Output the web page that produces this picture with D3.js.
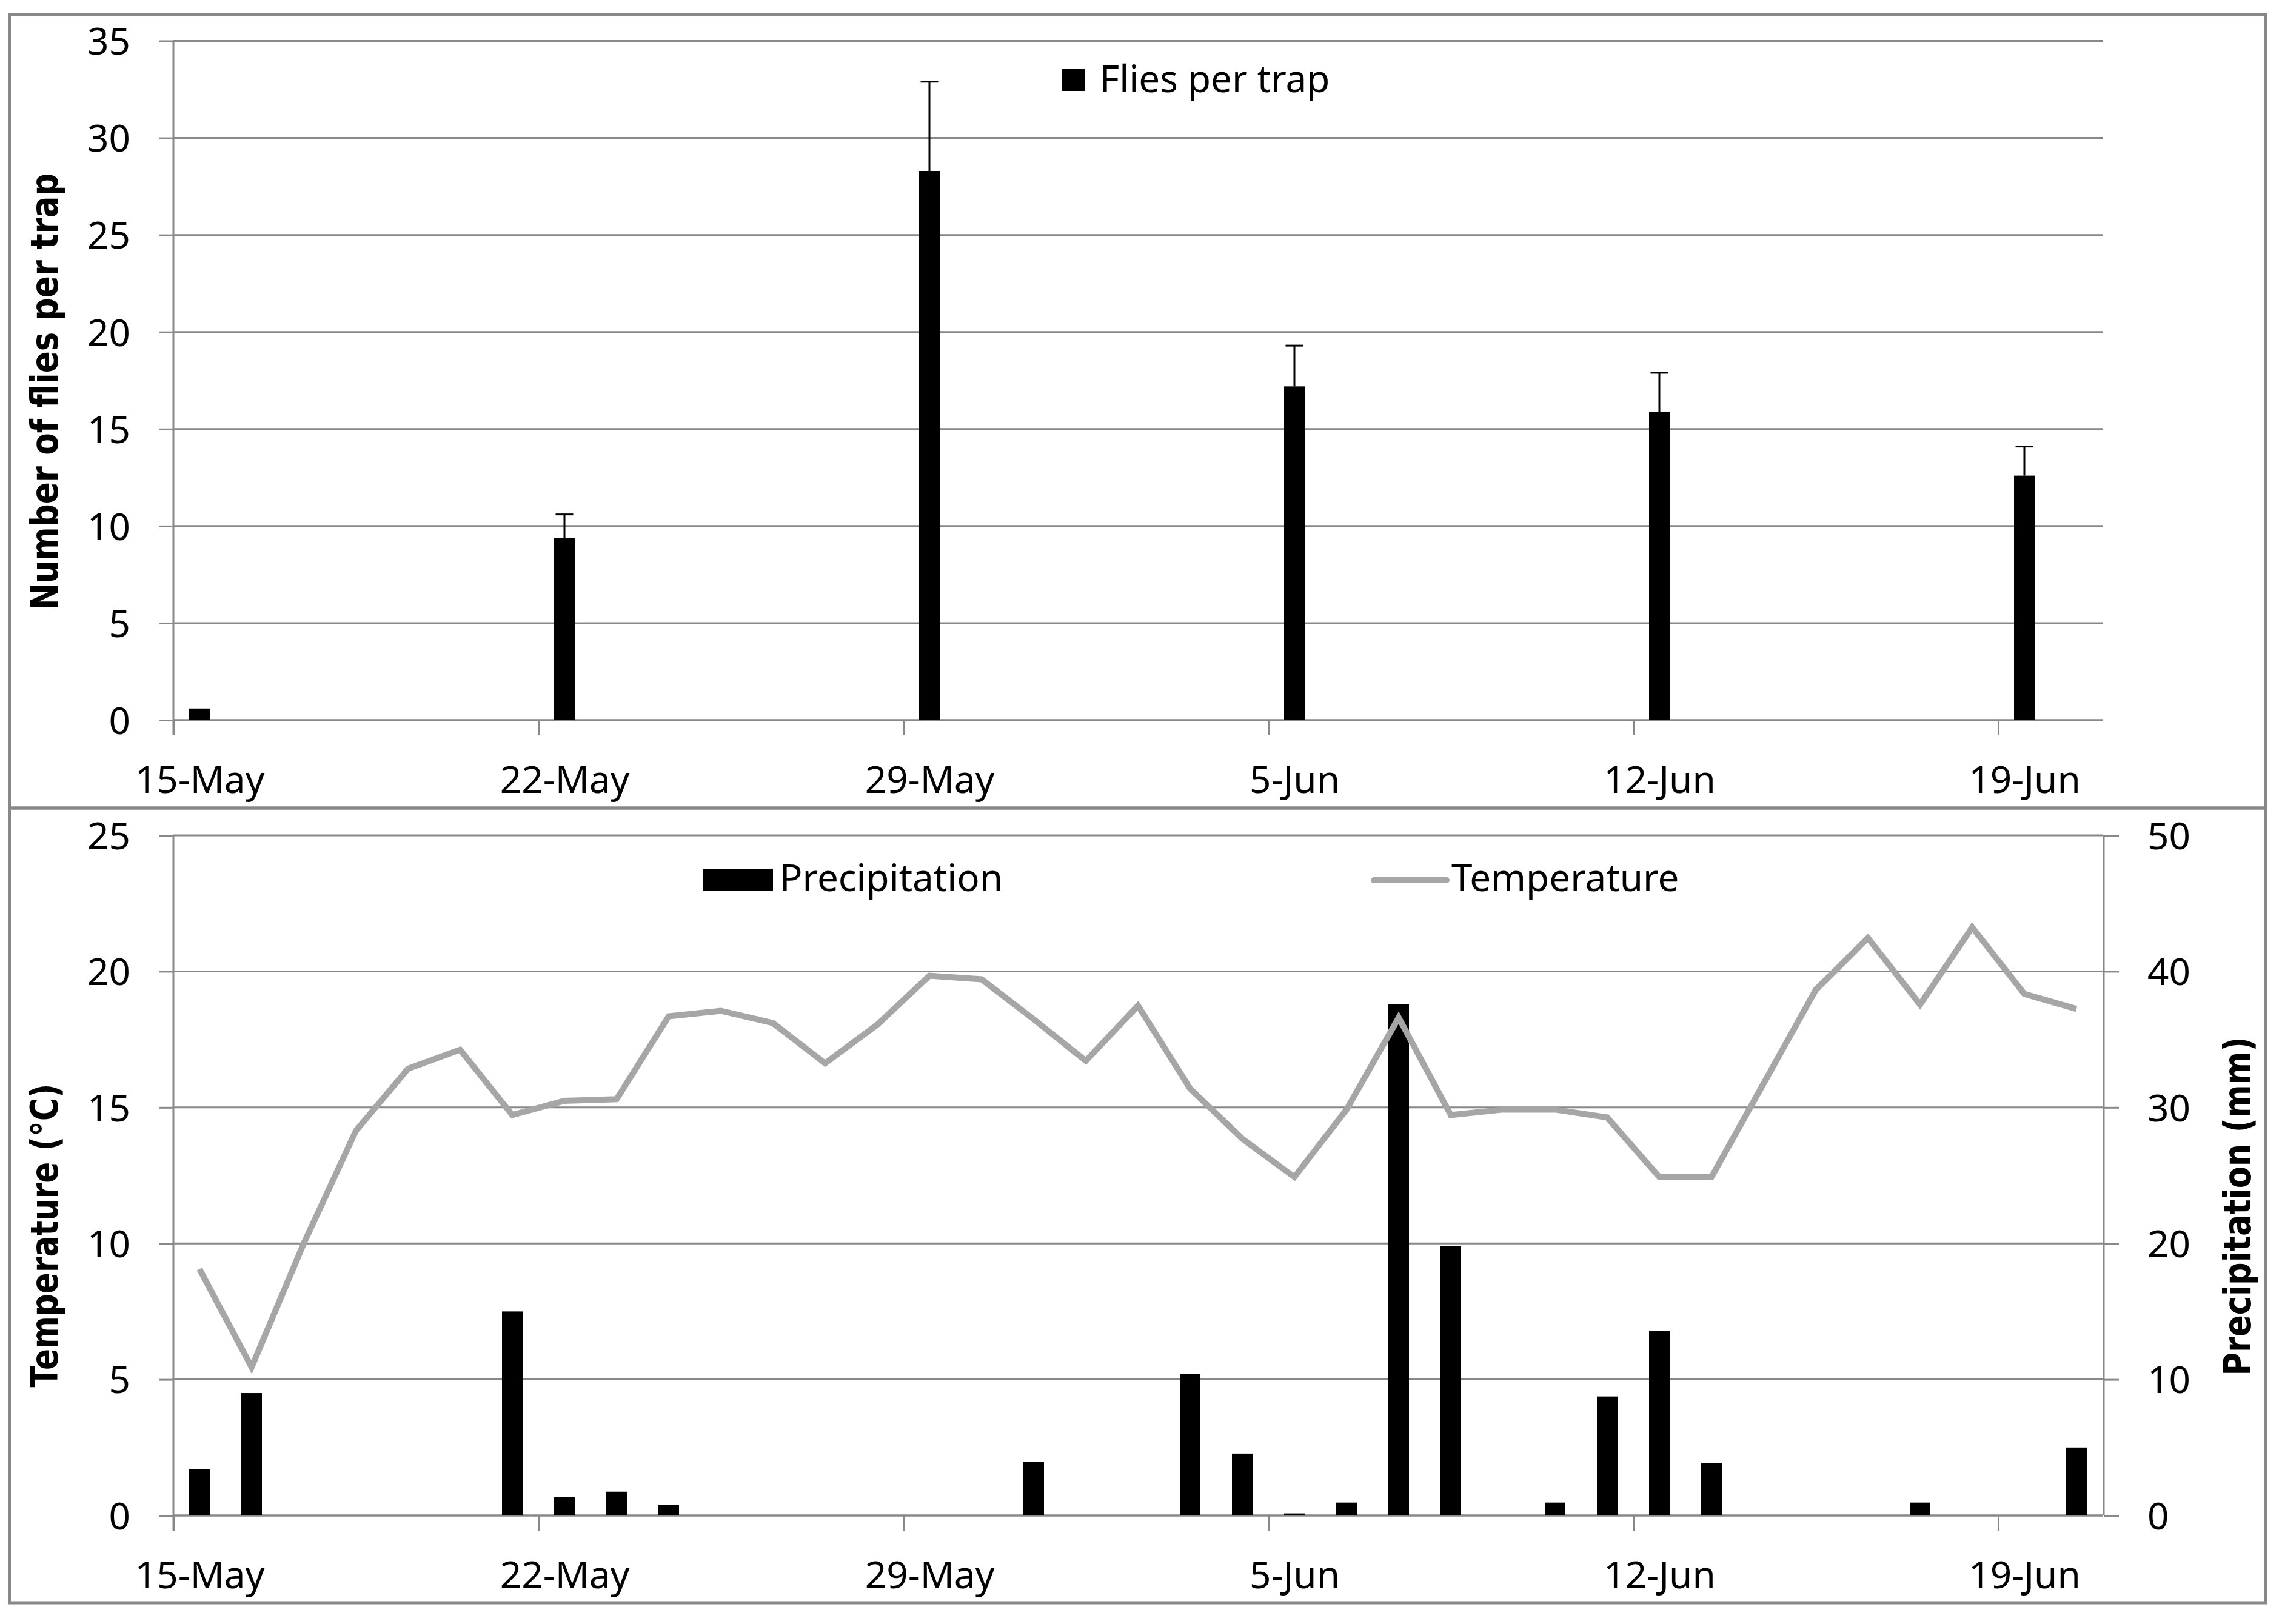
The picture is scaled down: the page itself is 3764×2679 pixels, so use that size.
<!DOCTYPE html>
<html>
<head>
<meta charset="utf-8">
<script src="https://cdn.jsdelivr.net/npm/d3@7"></script>
<style>
  html, body { margin: 0; padding: 0; background: #fff; }
  svg { display: block; }
  text { font-family: "Noto Sans", "Open Sans", sans-serif; fill: #000; }
  .title { font-family: "DejaVu Sans", sans-serif; font-weight: bold; }
</style>
</head>
<body>
<script>
// ---------------- DATA ----------------
const trapDates = ["2013-05-15", "2013-05-22", "2013-05-29", "2013-06-05", "2013-06-12", "2013-06-19"];
const fliesPerTrap = [0.6, 9.4, 28.3, 17.2, 15.9, 12.6];
const fliesSE = [0, 1.2, 4.6, 2.1, 2.0, 1.5];

const weatherDates = [
  "2013-05-15","2013-05-16","2013-05-17","2013-05-18","2013-05-19","2013-05-20","2013-05-21",
  "2013-05-22","2013-05-23","2013-05-24","2013-05-25","2013-05-26","2013-05-27","2013-05-28",
  "2013-05-29","2013-05-30","2013-05-31","2013-06-01","2013-06-02","2013-06-03","2013-06-04",
  "2013-06-05","2013-06-06","2013-06-07","2013-06-08","2013-06-09","2013-06-10","2013-06-11",
  "2013-06-12","2013-06-13","2013-06-14","2013-06-15","2013-06-16","2013-06-17","2013-06-18",
  "2013-06-19","2013-06-20"
];
const temperature = [
  9.06, 5.45, 10.0, 14.14, 16.42, 17.12, 14.72,
  15.24, 15.30, 18.35, 18.55, 18.10, 16.62, 18.04,
  19.84, 19.71, 18.24, 16.71, 18.74, 15.69, 13.85,
  12.44, 14.92, 18.30, 14.72, 14.92, 14.92, 14.63,
  12.44, 12.44, 15.88, 19.32, 21.23, 18.78, 21.62,
  19.17, 18.62
];
const precipitation = [
  3.4, 9.0, 0, 0, 0, 0, 15.0,
  1.35, 1.75, 0.8, 0, 0, 0, 0,
  0, 0, 3.95, 0, 0, 10.4, 4.55,
  0.15, 0.95, 37.6, 19.8, 0, 0.95, 8.75,
  13.55, 3.85, 0, 0, 0, 0.95, 0,
  0, 5.0
];

const xTickDates = ["2013-05-15", "2013-05-22", "2013-05-29", "2013-06-05", "2013-06-12", "2013-06-19"];
const xDomain = ["2013-05-15", "2013-06-21"];
const fliesTicks = [0, 5, 10, 15, 20, 25, 30, 35];
const tempTicks = [0, 5, 10, 15, 20, 25];
const precipTicks = [0, 10, 20, 30, 40, 50];

// ---------------- SETUP ----------------
const W = 3764, H = 2679;
const parse = d3.utcParse("%Y-%m-%d");
const fmt = d3.utcFormat("%-d-%b");
const GRID = "#888888";

const svg = d3.select("body").append("svg").attr("width", W).attr("height", H);
svg.append("rect").attr("width", W).attr("height", H).attr("fill", "#fff");

const x = d3.scaleUtc().domain(xDomain.map(parse)).range([286, 3468]);
const dayW = x(parse("2013-05-16")) - x(parse("2013-05-15"));
const mid = d => x(d3.utcHour.offset(d, 12));
const barW = 34;

// panel borders
svg.append("rect").attr("x", 15.5).attr("y", 24).attr("width", 3722).attr("height", 1309)
  .attr("fill", "none").attr("stroke", GRID).attr("stroke-width", 5);
svg.append("rect").attr("x", 15.5).attr("y", 1333).attr("width", 3722).attr("height", 1311)
  .attr("fill", "none").attr("stroke", GRID).attr("stroke-width", 5);

function xAxis(g, y0) {
  const ax = d3.axisBottom(x).tickValues(xTickDates.map(parse)).tickSize(25).tickSizeOuter(0).tickFormat(fmt);
  const a = g.append("g").attr("transform", `translate(0,${y0})`).call(ax);
  a.select(".domain").remove();
  a.selectAll(".tick line").attr("stroke", GRID).attr("stroke-width", 3);
  a.selectAll(".tick text").attr("x", dayW / 2).attr("y", 120).attr("dy", 0)
    .attr("font-size", 62).attr("font-family", "Noto Sans").attr("fill", "#000");
  g.append("line").attr("x1", 286).attr("x2", 3468).attr("y1", y0).attr("y2", y0)
    .attr("stroke", GRID).attr("stroke-width", 3);
}

function grid(g, yScale, ticks) {
  g.append("g").selectAll("line").data(ticks).join("line")
    .attr("x1", 286).attr("x2", 3468)
    .attr("y1", d => yScale(d)).attr("y2", d => yScale(d))
    .attr("stroke", GRID).attr("stroke-width", 3);
}

function leftAxis(g, yScale, ticks) {
  const a = g.append("g").attr("transform", "translate(286,0)")
    .call(d3.axisLeft(yScale).tickValues(ticks).tickSize(24).tickSizeOuter(0));
  a.select(".domain").remove();
  a.selectAll(".tick line").attr("stroke", GRID).attr("stroke-width", 3);
  a.selectAll(".tick text").attr("x", -71).attr("dy", "0.36em")
    .attr("font-size", 62).attr("font-family", "Noto Sans").attr("fill", "#000");
  const r = yScale.range();
  g.append("line").attr("x1", 286).attr("x2", 286).attr("y1", r[1]).attr("y2", r[0] + 25)
    .attr("stroke", GRID).attr("stroke-width", 3);
}

// ---------------- TOP CHART ----------------
const topG = svg.append("g");
const yF = d3.scaleLinear().domain([0, 35]).range([1188, 67.5]);
grid(topG, yF, fliesTicks);
leftAxis(topG, yF, fliesTicks);
xAxis(topG, 1188);

const flies = trapDates.map((d, i) => ({ date: parse(d), v: fliesPerTrap[i], se: fliesSE[i] }));
topG.append("g").selectAll("rect").data(flies).join("rect")
  .attr("x", d => mid(d.date) - barW / 2).attr("width", barW)
  .attr("y", d => yF(d.v)).attr("height", d => yF(0) - yF(d.v)).attr("fill", "#000");
const eb = topG.append("g").selectAll("g").data(flies.filter(d => d.se > 0)).join("g");
eb.append("line").attr("x1", d => mid(d.date)).attr("x2", d => mid(d.date))
  .attr("y1", d => yF(d.v)).attr("y2", d => yF(d.v + d.se)).attr("stroke", "#000").attr("stroke-width", 3);
eb.append("line").attr("x1", d => mid(d.date) - 14.5).attr("x2", d => mid(d.date) + 14.5)
  .attr("y1", d => yF(d.v + d.se)).attr("y2", d => yF(d.v + d.se)).attr("stroke", "#000").attr("stroke-width", 3);

// legend
topG.append("rect").attr("x", 1752).attr("y", 114).attr("width", 37).attr("height", 36).attr("fill", "#000");
topG.append("text").attr("x", 1814).attr("y", 152).attr("font-size", 62).text("Flies per trap");

topG.append("text").attr("class", "title")
  .attr("transform", "translate(95,646) rotate(-90)")
  .attr("text-anchor", "middle").attr("font-size", 63)
  .attr("textLength", 721).attr("lengthAdjust", "spacingAndGlyphs")
  .text("Number of flies per trap");

// ---------------- BOTTOM CHART ----------------
const botG = svg.append("g");
const yT = d3.scaleLinear().domain([0, 25]).range([2500, 1378]);
const yP = d3.scaleLinear().domain([0, 50]).range([2500, 1378]);
grid(botG, yT, tempTicks);
leftAxis(botG, yT, tempTicks);
xAxis(botG, 2500);

// right axis
const ra = botG.append("g").attr("transform", "translate(3470,0)")
  .call(d3.axisRight(yP).tickValues(precipTicks).tickSize(25).tickSizeOuter(0));
ra.select(".domain").remove();
ra.selectAll(".tick line").attr("stroke", GRID).attr("stroke-width", 3);
ra.selectAll(".tick text").attr("x", 72).attr("dy", "0.36em")
  .attr("font-size", 62).attr("font-family", "Noto Sans").attr("fill", "#000");
botG.append("line").attr("x1", 3470).attr("x2", 3470).attr("y1", 1378).attr("y2", 2500)
  .attr("stroke", GRID).attr("stroke-width", 3);

const weather = weatherDates.map((d, i) => ({ date: parse(d), t: temperature[i], p: precipitation[i] }));
botG.append("g").selectAll("rect").data(weather.filter(d => d.p > 0)).join("rect")
  .attr("x", d => mid(d.date) - barW / 2).attr("width", barW)
  .attr("y", d => yP(d.p)).attr("height", d => yP(0) - yP(d.p)).attr("fill", "#000");

botG.append("path").datum(weather)
  .attr("d", d3.line().x(d => mid(d.date)).y(d => yT(d.t)))
  .attr("fill", "none").attr("stroke", "#a6a6a6").attr("stroke-width", 10)
  .attr("stroke-linejoin", "miter").attr("stroke-miterlimit", 4).attr("stroke-linecap", "butt");

// legend
botG.append("rect").attr("x", 1160).attr("y", 1433).attr("width", 115).attr("height", 36).attr("fill", "#000");
botG.append("text").attr("x", 1286).attr("y", 1470).attr("font-size", 62).text("Precipitation");
botG.append("line").attr("x1", 2266).attr("x2", 2386).attr("y1", 1452).attr("y2", 1452)
  .attr("stroke", "#a6a6a6").attr("stroke-width", 10).attr("stroke-linecap", "round");
botG.append("text").attr("x", 2394).attr("y", 1470).attr("font-size", 62).text("Temperature");

botG.append("text").attr("class", "title")
  .attr("transform", "translate(95,2038) rotate(-90)")
  .attr("text-anchor", "middle").attr("font-size", 63)
  .attr("textLength", 501).attr("lengthAdjust", "spacingAndGlyphs")
  .text("Temperature (°C)");
botG.append("text").attr("class", "title")
  .attr("transform", "translate(3712,1990) rotate(-90)")
  .attr("text-anchor", "middle").attr("font-size", 63)
  .attr("textLength", 559).attr("lengthAdjust", "spacingAndGlyphs")
  .text("Precipitation (mm)");
</script>
</body>
</html>
